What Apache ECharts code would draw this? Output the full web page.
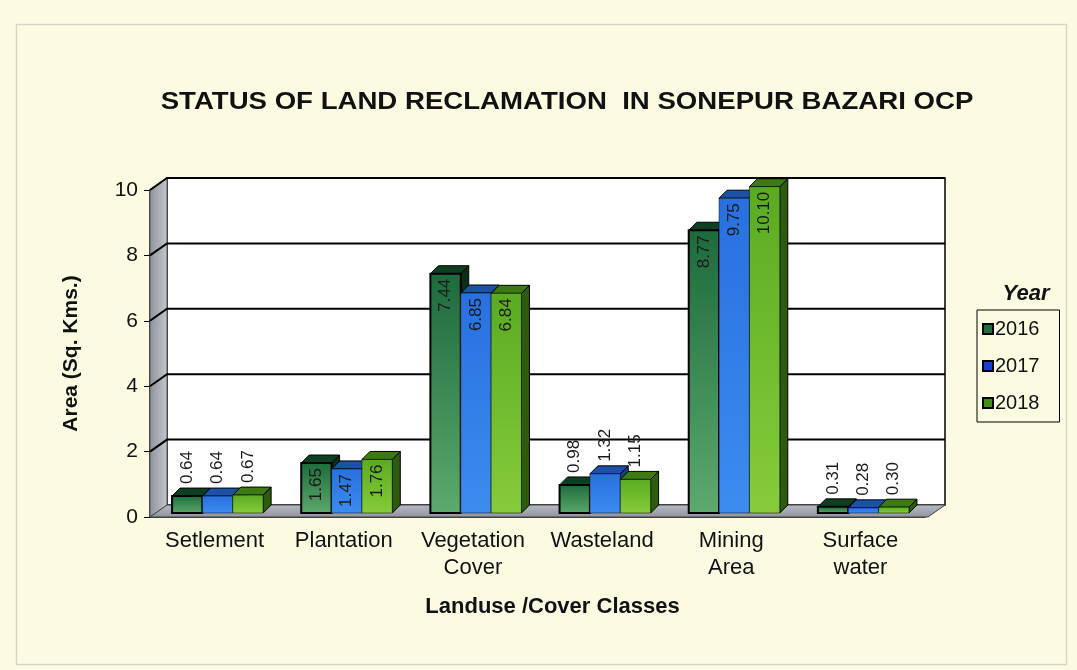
<!DOCTYPE html>
<html>
<head>
<meta charset="utf-8">
<script src="https://cdn.jsdelivr.net/npm/echarts@6/dist/echarts.min.js"></script>
<style>
  html, body { margin: 0; padding: 0; background: #fcfbe2; }
  #chart { width: 1077px; height: 670px; }
</style>
</head>
<body>
<div id="chart"></div>
<script>
const categories = ['Setlement', 'Plantation', 'Vegetation\nCover', 'Wasteland', 'Mining\nArea', 'Surface\nwater'];
const years = ['2016', '2017', '2018'];
const values2016 = [0.64, 1.65, 7.44, 0.98, 8.77, 0.31];
const values2017 = [0.64, 1.47, 6.85, 1.32, 9.75, 0.28];
const values2018 = [0.67, 1.76, 6.84, 1.15, 10.10, 0.30];
const yTicks = [0, 2, 4, 6, 8, 10];

const WALL_DX = 17, WALL_DY = -12;  // depth of back wall
const BAR_D = 8;                    // depth of bar tops

const faces = [
  { front: ['#1d6a3c', '#5caa6e'], top: '#0f3f22', side: '#0b2e18', legend: '#1f6e40' },
  { front: ['#2870e0', '#3c8cf0'], top: '#1b52a8', side: '#163f86', legend: '#1a3fd0' },
  { front: ['#5aab22', '#86cc3a'], top: '#3d7a12', side: '#2c5c0c', legend: '#3f8f1a' }
];

function frameItem(params, api) {
  const cs = params.coordSys;
  const x = cs.x, y = cs.y, w = cs.width, h = cs.height;
  const children = [];
  // back wall
  children.push({
    type: 'rect',
    shape: { x: x + WALL_DX, y: y + WALL_DY, width: w + 3, height: h },
    style: { fill: '#ffffff', stroke: '#000', lineWidth: 1.5 }
  });
  // left wall
  children.push({
    type: 'polygon',
    shape: { points: [[x, y], [x + WALL_DX, y + WALL_DY], [x + WALL_DX, y + h + WALL_DY], [x, y + h]] },
    style: {
      fill: new echarts.graphic.LinearGradient(0, 0, 1, 0, [
        { offset: 0, color: '#8e929c' }, { offset: 1, color: '#c4c7cf' }
      ]),
      stroke: '#555', lineWidth: 1
    }
  });
  // gridlines on the walls
  yTicks.forEach(function (v) {
    if (v === 0) return;
    const py = api.coord([0, v])[1];
    children.push({
      type: 'polyline',
      shape: { points: [[x, py], [x + WALL_DX, py + WALL_DY], [x + w + WALL_DX + 3, py + WALL_DY]] },
      style: { stroke: '#000', lineWidth: 2, fill: null }
    });
  });
  // floor
  children.push({
    type: 'polygon',
    shape: { points: [[x, y + h], [x + WALL_DX, y + h + WALL_DY], [x + w + WALL_DX + 3, y + h + WALL_DY], [x + w + 3, y + h]] },
    style: {
      fill: new echarts.graphic.LinearGradient(0, 0, 0, 1, [
        { offset: 0, color: '#b9bcc6' }, { offset: 1, color: '#8f939e' }
      ]),
      stroke: '#444', lineWidth: 1
    }
  });
  return { type: 'group', children: children };
}

function barItem(idx) {
  const f = faces[idx];
  return function (params, api) {
    const cat = api.value(0);
    const val = api.value(1);
    const base = api.coord([cat, 0]);
    const top = api.coord([cat, val]);
    const band = api.size([1, 0])[0];
    const bw = band * 0.235;
    const x0 = base[0] - 1.5 * bw + idx * bw + 3;
    const y0 = base[1] - 4;
    const y1 = top[1];
    const children = [
      {
        type: 'polygon',
        shape: { points: [[x0 + bw, y1], [x0 + bw + BAR_D, y1 - BAR_D], [x0 + bw + BAR_D, y0 - BAR_D], [x0 + bw, y0]] },
        style: { fill: f.side, stroke: '#000', lineWidth: 1 }
      },
      {
        type: 'polygon',
        shape: { points: [[x0, y1], [x0 + BAR_D, y1 - BAR_D], [x0 + bw + BAR_D, y1 - BAR_D], [x0 + bw, y1]] },
        style: { fill: f.top, stroke: '#000', lineWidth: 1 }
      },
      {
        type: 'rect',
        shape: { x: x0, y: y1, width: bw, height: y0 - y1 },
        style: {
          fill: new echarts.graphic.LinearGradient(0, 0, 0, 1, [
            { offset: 0, color: f.front[0] }, { offset: 1, color: f.front[1] }
          ]),
          stroke: '#000', lineWidth: idx === 0 ? 2 : 0.5
        }
      }
    ];
    const inside = val >= 1.4;
    children.push({
      type: 'text',
      x: x0 + bw / 2,
      y: inside ? y1 + 5 : y1 - BAR_D - 4,
      rotation: Math.PI / 2,
      style: {
        text: val.toFixed(2),
        fill: '#1a1a1a',
        font: '17px "Liberation Sans", Arial, sans-serif',
        align: inside ? 'right' : 'left',
        verticalAlign: 'middle'
      }
    });
    return { type: 'group', children: children };
  };
}

const seriesValues = [values2016, values2017, values2018];

const chart = echarts.init(document.getElementById('chart'), null, { renderer: 'canvas' });

const option = {
  backgroundColor: '#fcfbe2',
  animation: false,
  textStyle: { fontFamily: '"Liberation Sans", Arial, sans-serif' },
  title: [
    {
      text: 'Year',
      left: 1021, top: 278, textAlign: 'center',
      textStyle: { fontSize: 22, fontWeight: 'bold', fontStyle: 'italic', color: '#111' }
    }
  ],
  legend: {
    data: years,
    orient: 'vertical',
    left: 977, top: 310,
    width: 86,
    itemWidth: 10, itemHeight: 10,
    itemGap: 17,
    padding: [9, 20, 9, 5],
    borderColor: '#000', borderWidth: 1,
    icon: 'rect',
    textStyle: { fontSize: 20, color: '#111', padding: [0, 0, 0, -3] }
  },
  grid: { left: 150, right: 152, top: 190, bottom: 153 },
  xAxis: {
    type: 'category',
    data: categories,
    name: 'Landuse /Cover Classes',
    nameLocation: 'middle',
    nameGap: 79,
    nameTextStyle: { fontSize: 22, fontWeight: 'bold', color: '#111', padding: [0, 0, 0, 30] },
    axisLine: { lineStyle: { color: '#000', width: 1.5 } },
    axisTick: { lineStyle: { color: '#000' }, length: 8 },
    axisLabel: { interval: 0, hideOverlap: false, fontSize: 22, color: '#111', lineHeight: 27, margin: 10 },
    splitLine: { show: false }
  },
  yAxis: {
    type: 'value',
    min: 0, max: 10, interval: 2,
    name: 'Area (Sq. Kms.)',
    nameLocation: 'middle',
    nameGap: 68,
    nameTextStyle: { fontSize: 21, fontWeight: 'bold', color: '#111' },
    axisLine: { show: true, lineStyle: { color: '#000', width: 1.5 } },
    axisTick: { show: true, lineStyle: { color: '#000' }, length: 6 },
    axisLabel: { fontSize: 21, color: '#111', margin: 12 },
    splitLine: { show: false }
  },
  graphic: [
    {
      type: 'rect', left: 14, top: 22, z: -10,
      shape: { width: 1050, height: 640 },
      style: { fill: 'none', stroke: '#d6d5c4', lineWidth: 1.5 }
    },
    {
      type: 'text', x: 567, y: 103, scaleX: 1.2,
      style: {
        text: 'STATUS OF LAND RECLAMATION  IN SONEPUR BAZARI OCP',
        font: 'bold 23px "Liberation Sans", Arial, sans-serif',
        fill: '#111', align: 'center', verticalAlign: 'middle'
      }
    }
  ],
  series: [
    {
      type: 'custom', name: 'frame', z: 1,
      renderItem: frameItem,
      data: [[0, 0]],
      silent: true
    }
  ].concat(years.map(function (yr, i) {
    return {
      type: 'custom', name: yr, z: 2 + i,
      itemStyle: { color: faces[i].legend, borderColor: '#000', borderWidth: 1 },
      renderItem: barItem(i),
      encode: { x: 0, y: 1 },
      data: seriesValues[i].map(function (v, j) { return [j, v]; })
    };
  }))
};

chart.setOption(option);
</script>
</body>
</html>
